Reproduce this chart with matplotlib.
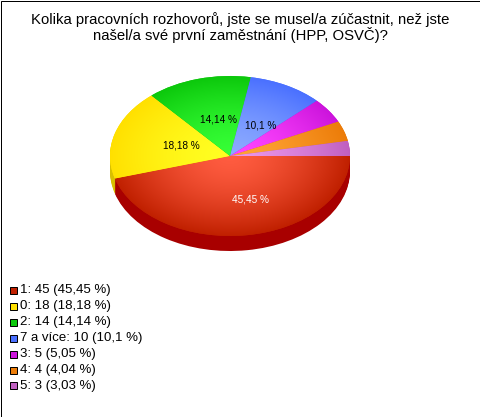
import numpy as np
import matplotlib
matplotlib.use("Agg")
import matplotlib.pyplot as plt
from matplotlib.colors import to_rgb
from matplotlib.patches import Rectangle

plt.rcParams['font.family'] = ['Liberation Sans', 'DejaVu Sans']

# Datos
categories = ["1", "0", "2", "7 a více", "3", "4", "5"]
counts = [45, 18, 14, 10, 5, 4, 3]
percents = ["45,45", "18,18", "14,14", "10,1", "5,05", "4,04", "3,03"]

# Colores: centro, borde y lateral
light_colors = ["#ff5c40", "#ffff22", "#36ff36", "#8caaff", "#ff46ff", "#ffa436", "#ea96ea"]
edge_colors = ["#c02000", "#ffe000", "#0cc80c", "#4a70ff", "#cc14dc", "#ec7c08", "#c060c0"]
side_colors = ["#a80000", "#d8c000", "#0a9a0a", "#3050c0", "#9a10a8", "#b86008", "#905090"]

title = "Kolika pracovních rozhovorů, jste se musel/a zúčastnit, než jste\nnašel/a své první zaměstnání (HPP, OSVČ)?"

W, H = 480, 417
CX, CY, RX, RY, DEPTH = 230, 156, 120, 80, 15

fig = plt.figure(figsize=(W / 100, H / 100), dpi=100, facecolor="white")
ax = fig.add_axes([0, 0, 1, 1])


def to_data(px, py):
    return (px - CX) / RX, (CY - py) / RY


# Lateral del pastel
for k in range(DEPTH, 0, -1):
    ax.pie(counts, colors=side_colors, startangle=0, counterclock=False,
           center=(0, -k / RY), radius=1, frame=True)

# Cara superior
wedges, _ = ax.pie(counts, colors=edge_colors, startangle=0, counterclock=False,
                   center=(0, 0), radius=1, frame=True)

# Degradado radial dentro de cada porción
gx, gy = np.meshgrid(np.linspace(-1, 1, 400), np.linspace(-1, 1, 400))
dist = np.clip(np.sqrt(gx ** 2 + gy ** 2), 0, 1)[..., None] ** 1.5
for wedge, c1, c2 in zip(wedges, light_colors, edge_colors):
    grad = np.array(to_rgb(c1)) * (1 - dist) + np.array(to_rgb(c2)) * dist
    im = ax.imshow(grad, extent=(-1, 1, -1, 1), origin="lower", zorder=2)
    im.set_clip_path(wedge)

ax.set_aspect("auto")
ax.set_xlim(to_data(0, 0)[0], to_data(W, 0)[0])
ax.set_ylim(to_data(0, H)[1], to_data(0, 0)[1])
ax.axis("off")

# Etiquetas sobre el pastel
label_pos = [(250, 199), (181, 145), (219, 119), (261, 125)]
label_color = ["white", "black", "black", "black"]
for p, pos, col in zip(percents, label_pos, label_color):
    lx, ly = to_data(*pos)
    ax.text(lx, ly, p + " %", color=col, fontsize=7.2, ha="center", va="center", zorder=5)

# Título
fig.text(240 / W, 1 - 12.5 / H, title, fontsize=10.7, ha="center", va="top", linespacing=1.0)

# Leyenda
for i, (cat, n, p, col) in enumerate(zip(categories, counts, percents, edge_colors)):
    y = 290.5 + i * 15.9
    fig.add_artist(Rectangle((9.5 / W, 1 - (y + 3.5) / H), 7 / W, 7 / H, transform=fig.transFigure,
                             facecolor=col, edgecolor="black", linewidth=0.72))
    fig.text(20 / W, 1 - y / H, f"{cat}: {n} ({p} %)", fontsize=9.55, ha="left", va="center")

# Marco
fig.add_artist(Rectangle((0.5 / W, 0.5 / H), (W - 1) / W, (H - 1) / H, transform=fig.transFigure,
                         facecolor="none", edgecolor="black", linewidth=0.72))

plt.savefig("out.png", dpi=100)
